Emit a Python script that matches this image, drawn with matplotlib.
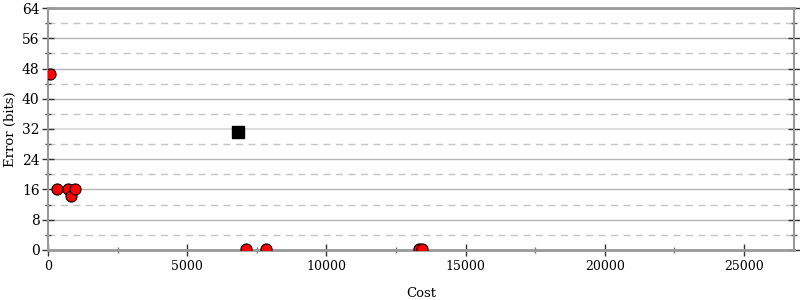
import numpy as np
import matplotlib
matplotlib.use('Agg')
import matplotlib.pyplot as plt
from matplotlib.ticker import MultipleLocator

# 数据：圆点（红色）与方块（黑色）
cost_red = [70, 320, 720, 830, 980, 7120, 7830, 13330, 13420]
err_red = [46.5, 16.0, 16.0, 14.3, 16.0, 0.2, 0.2, 0.2, 0.2]
cost_black = [6830]
err_black = [31.3]

plt.rcParams['font.family'] = 'DejaVu Serif'

fig = plt.figure(figsize=(8, 3), dpi=100)
ax = fig.add_axes([0.06, 0.167, 0.9325, 0.806])

ax.plot(cost_red, err_red, 'o', color='red', markeredgecolor='black',
        markeredgewidth=0.8, markersize=8, zorder=3)
ax.plot(cost_black, err_black, 's', color='black', markersize=9, zorder=3)

ax.set_xlim(0, 26800)
ax.set_ylim(0, 64)
ax.yaxis.set_major_locator(MultipleLocator(8))
ax.yaxis.set_minor_locator(MultipleLocator(4))
ax.xaxis.set_major_locator(MultipleLocator(5000))
ax.xaxis.set_minor_locator(MultipleLocator(2500))

ax.grid(True, which='major', axis='y', color='#b4b4b4', linewidth=1, linestyle='-')
ax.grid(True, which='minor', axis='y', color='#c4c4c4', linewidth=1, linestyle=(0, (5, 4)))
for tick_val, gl in zip(ax.get_yticks(), ax.get_ygridlines()):
    if tick_val == 32:
        gl.set_color('#dddddd')
        gl.set_linewidth(1.5)

for s in ax.spines.values():
    s.set_color('#999999')
    s.set_linewidth(1.5)
ax.spines['top'].set_linewidth(2)
ax.spines['bottom'].set_linewidth(2)

ax.tick_params(axis='y', which='major', direction='inout', length=8, width=1,
               color='#333333', labelsize=10, pad=2, right=True)
ax.tick_params(axis='y', which='minor', direction='inout', length=5, width=1,
               color='#555555', right=True)
ax.tick_params(axis='x', which='major', direction='inout', length=8, width=1,
               color='#333333', labelsize=9)
ax.tick_params(axis='x', which='minor', direction='inout', length=4, width=1,
               color='#777777')
ax.set_xticks([0, 5000, 10000, 15000, 20000, 25000])
ax.set_xticklabels(['0', '5000', '10000', '15000', '20000', '25000'])

ax.set_xlabel('Cost', fontsize=9.5, labelpad=10)
ax.set_ylabel('Error (bits)', fontsize=9.5, labelpad=4)

fig.savefig('out.png', dpi=100)
